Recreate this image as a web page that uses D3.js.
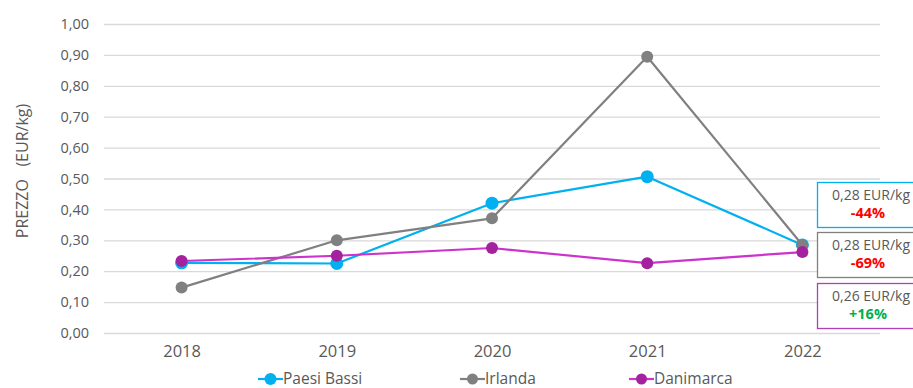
<!DOCTYPE html>
<html><head><meta charset="utf-8">
<script src="https://cdn.jsdelivr.net/npm/d3@7"></script>
<style>body{margin:0;background:#fff;overflow:hidden}svg{display:block}text{font-family:"Open Sans",sans-serif;fill:#595959}</style>
</head><body>
<svg id="c" width="913" height="388"></svg>
<script>
const years = ["2018","2019","2020","2021","2022"];
const paesiBassi = [0.227, 0.225, 0.42, 0.506, 0.285];
const irlanda = [0.147, 0.30, 0.371, 0.894, 0.285];
const danimarca = [0.233, 0.25, 0.275, 0.226, 0.262];
const yTicks = [0,0.1,0.2,0.3,0.4,0.5,0.6,0.7,0.8,0.9,1.0];
const seriesNames = ["Paesi Bassi","Irlanda","Danimarca"];
const boxPrice = ["0,28 EUR/kg","0,28 EUR/kg","0,26 EUR/kg"];
const boxChange = ["-44%","-69%","+16%"];

const series = [
  {name: seriesNames[0], values: paesiBassi, line:"#00B0F0", dot:"#00B0F0", r:6.5},
  {name: seriesNames[1], values: irlanda, line:"#808080", dot:"#808080", r:6},
  {name: seriesNames[2], values: danimarca, line:"#CC33CC", dot:"#A5229F", r:6}
];
const boxStroke = ["#00B0F0","#808080","#B040B8"];
const changeColor = ["#FF0000","#FF0000","#00B050"];

const svg = d3.select("#c");
const x0 = 104, x1 = 880, yTop = 24, yBot = 333;
const x = d3.scalePoint().domain(years).range([x0, x1]).padding(0.5);
const y = d3.scaleLinear().domain([0,1]).range([yBot, yTop]);

// gridlines
svg.append("g").selectAll("line").data(yTicks).join("line")
  .attr("x1", x0).attr("x2", x1)
  .attr("y1", d=>y(d)+0.5).attr("y2", d=>y(d)+0.5)
  .attr("stroke","#D9D9D9").attr("stroke-width",1.3);

// y axis labels
const yAxis = d3.axisLeft(y).tickValues(yTicks).tickSize(0).tickPadding(0)
  .tickFormat(d=>d3.format(".2f")(d).replace(".",","));
const ya = svg.append("g").attr("transform","translate(89,0)").call(yAxis);
ya.select(".domain").remove();
ya.selectAll("text").style("font-size","14.5px").style("fill","#595959").style("font-family","'Open Sans',sans-serif");

// x axis labels
const xAxis = d3.axisBottom(x).tickSize(0).tickPadding(0);
const xa = svg.append("g").attr("transform","translate(0,345)").call(xAxis);
xa.select(".domain").remove();
xa.selectAll("text").style("font-size","16.5px").style("fill","#595959").style("font-family","'Open Sans',sans-serif");

// y title
svg.append("text").attr("transform","translate(28,171) rotate(-90)")
  .attr("text-anchor","middle").style("font-size","16px")
  .attr("xml:space","preserve").text("PREZZO   (EUR/kg)");

// lines and points
const line = d3.line().x((d,i)=>x(years[i])).y(d=>y(d));
series.forEach(s=>{
  const g = svg.append("g");
  g.append("path").attr("d", line(s.values)).attr("fill","none")
    .attr("stroke", s.line).attr("stroke-width",2.2).attr("stroke-linejoin","round");
  g.selectAll("circle").data(s.values).join("circle")
    .attr("cx",(d,i)=>x(years[i])).attr("cy",d=>y(d)).attr("r",s.r).attr("fill",s.dot);
});

// annotation boxes
const boxTops = [182, 232, 283];
boxTops.forEach((t,i)=>{
  svg.append("rect").attr("x",817.5).attr("y",t+0.5).attr("width",110).attr("height",45)
    .attr("fill","#fff").attr("stroke",boxStroke[i]).attr("stroke-width",1.3);
  svg.append("text").attr("x",871).attr("y",t+18).attr("text-anchor","middle")
    .style("font-size","14px").style("fill","#595959").text(boxPrice[i]);
  svg.append("text").attr("x",868).attr("y",t+36).attr("text-anchor","middle")
    .style("font-size","14.5px").style("font-weight","bold").style("fill",changeColor[i]).text(boxChange[i]);
});

// legend
const legX = [258, 460, 629];
series.forEach((s,i)=>{
  const g = svg.append("g").attr("transform",`translate(${legX[i]},379)`);
  g.append("line").attr("x1",0).attr("x2",25).attr("y1",0).attr("y2",0).attr("stroke",s.line).attr("stroke-width",2.2);
  g.append("circle").attr("cx",12.5).attr("cy",0).attr("r",s.r-0.5).attr("fill",s.dot);
  g.append("text").attr("x",25).attr("y",5).style("font-size","15.5px").text(s.name);
});
</script>
</body></html>
